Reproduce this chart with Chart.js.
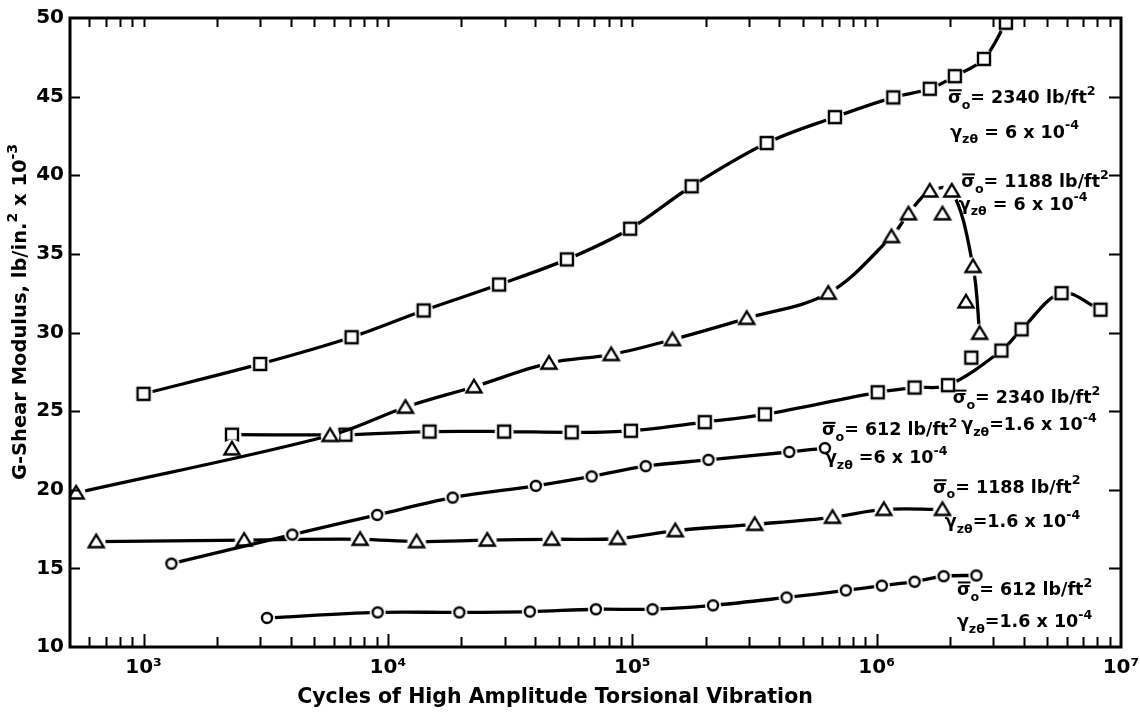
<!DOCTYPE html>
<html>
<head>
<meta charset="utf-8">
<script src="https://cdn.jsdelivr.net/npm/chart.js@4.4.0/dist/chart.umd.min.js"></script>
<style>
  html, body { margin: 0; background: #fff; }
  canvas { display: block; }
</style>
</head>
<body>
<canvas id="shear" width="1140" height="717"></canvas>
<script>
// cycles of high amplitude torsional vibration (x) vs shear modulus G, lb/in^2 x 10^-3 (y)

// sigma0 = 2340 lb/ft2, gamma = 6 x 10^-4 (squares)
const sq2340hiX = [1000, 3000, 7100, 14000, 28500, 54000, 98000, 175000, 355000, 675000, 1170000, 1650000, 2090000, 2750000, 3380000];
const sq2340hiY = [26.1, 28.0, 29.7, 31.4, 33.05, 34.65, 36.6, 39.3, 42.05, 43.7, 44.95, 45.5, 46.3, 47.4, 49.7];

// sigma0 = 1188 lb/ft2, gamma = 6 x 10^-4 (triangles)
const tr1188hiX = [530, 5800, 11800, 22500, 45600, 82000, 146000, 294000, 634000, 1150000, 1350000, 1650000, 2030000, 2480000, 2640000];
const tr1188hiY = [19.8, 23.45, 25.25, 26.55, 28.05, 28.6, 29.55, 30.9, 32.5, 36.1, 37.55, 39.0, 39.0, 34.2, 29.95];
const tr1188hiStrayX = [2300, 1860000, 2320000];
const tr1188hiStrayY = [22.6, 37.55, 31.95];

// sigma0 = 2340 lb/ft2, gamma = 1.6 x 10^-4 (squares)
const sq2340loX = [2300, 6700, 14800, 29900, 56500, 98700, 198000, 349000, 1010000, 1430000, 1960000, 3240000, 3920000, 5710000, 8240000];
const sq2340loY = [23.5, 23.5, 23.7, 23.7, 23.65, 23.75, 24.3, 24.8, 26.2, 26.5, 26.65, 28.85, 30.2, 32.5, 31.45];
const sq2340loStrayX = [2440000];
const sq2340loStrayY = [28.4];

// sigma0 = 612 lb/ft2, gamma = 6 x 10^-4 (circles)
const ci612hiX = [1300, 4060, 9040, 18400, 40300, 68200, 113500, 205000, 439000, 614000];
const ci612hiY = [15.3, 17.15, 18.4, 19.5, 20.25, 20.85, 21.5, 21.9, 22.4, 22.65];

// sigma0 = 1188 lb/ft2, gamma = 1.6 x 10^-4 (triangles)
const tr1188loX = [640, 2580, 7700, 13100, 25500, 46800, 87000, 150000, 317000, 660000, 1070000, 1860000];
const tr1188loY = [16.7, 16.8, 16.85, 16.7, 16.8, 16.85, 16.9, 17.4, 17.8, 18.25, 18.75, 18.75];

// sigma0 = 612 lb/ft2, gamma = 1.6 x 10^-4 (circles)
const ci612loX = [3200, 9080, 19600, 38100, 71000, 121000, 214000, 428000, 748000, 1050000, 1430000, 1880000, 2560000];
const ci612loY = [11.85, 12.2, 12.2, 12.25, 12.4, 12.4, 12.65, 13.15, 13.6, 13.9, 14.15, 14.5, 14.55];

const xTicks = [1e3, 1e4, 1e5, 1e6, 1e7];
const yMin = 10, yMax = 50, yStep = 5;

const FONT = '"DejaVu Sans", sans-serif';
const SUP = { '0': '⁰', '1': '¹', '2': '²', '3': '³', '4': '⁴', '5': '⁵', '6': '⁶', '7': '⁷', '8': '⁸', '9': '⁹', '-': '⁻' };

// open marker on a white disc, so the curve breaks around each point
function marker(shape) {
  const c = document.createElement('canvas');
  c.width = c.height = 22;
  const g = c.getContext('2d');
  const m = 11;
  g.fillStyle = '#fff';
  g.beginPath();
  g.arc(m, m, shape === 'circle' ? 8 : 9.5, 0, Math.PI * 2);
  g.fill();
  g.lineWidth = 2.4;
  g.strokeStyle = '#000';
  g.beginPath();
  if (shape === 'square') g.rect(m - 6, m - 6, 12, 12);
  else if (shape === 'triangle') { g.moveTo(m, m - 7); g.lineTo(m + 7.5, m + 5.5); g.lineTo(m - 7.5, m + 5.5); g.closePath(); }
  else g.arc(m, m, 5, 0, Math.PI * 2);
  g.stroke();
  return c;
}
const SQUARE = marker('square'), TRIANGLE = marker('triangle'), CIRCLE = marker('circle');

const pts = (xs, ys) => xs.map((x, i) => ({ x: x, y: ys[i] }));

function curve(xs, ys, style) {
  return {
    data: pts(xs, ys),
    borderColor: '#000',
    borderWidth: 3.3,
    borderCapStyle: 'round',
    tension: 0.35,
    pointStyle: style,
    pointRadius: 6,
    showLine: true
  };
}
function stray(xs, ys, style) {
  return { data: pts(xs, ys), showLine: false, pointStyle: style, pointRadius: 6, borderColor: '#000' };
}

// small helper for text with sub/superscripts and an overbar
function richWidth(ctx, parts, size) {
  let w = 0;
  parts.forEach(([t, k]) => {
    ctx.font = 'bold ' + (k === 'sub' || k === 'sup' ? size * 0.72 : size) + 'px ' + FONT;
    w += ctx.measureText(t).width;
  });
  return w;
}
function rich(ctx, x, y, parts, size) {
  parts.forEach(([t, k]) => {
    const s = k === 'sub' || k === 'sup' ? size * 0.72 : size;
    ctx.font = 'bold ' + s + 'px ' + FONT;
    const dy = k === 'sub' ? size * 0.32 : k === 'sup' ? -size * 0.48 : 0;
    ctx.fillText(t, x, y + dy);
    const w = ctx.measureText(t).width;
    if (k === 'bar') ctx.fillRect(x + 1, y - size * 0.78, w - 1, 2);
    x += w;
  });
}
const sigma = (v) => [['σ', 'bar'], ['o', 'sub'], ['= ' + v + ' lb/ft', ''], ['2', 'sup']];
const gammaExp = (v, e) => [['γ', ''], ['zθ', 'sub'], [v, ''], [e, 'sup']];

// label anchors: left end of the baseline, in data units
const notes = [
  { x: 1.96e6, y: 44.6, parts: sigma('2340') },
  { x: 2.0e6, y: 42.4, parts: gammaExp(' = 6 x 10', '-4') },
  { x: 2.22e6, y: 39.25, parts: sigma('1188') },
  { x: 2.17e6, y: 37.8, parts: gammaExp(' = 6 x 10', '-4') },
  { x: 2.05e6, y: 25.5, parts: sigma('2340') },
  { x: 2.22e6, y: 23.8, parts: gammaExp('=1.6 x 10', '-4') },
  { x: 5.97e5, y: 23.45, parts: sigma('612') },
  { x: 6.14e5, y: 21.7, parts: gammaExp(' =6 x 10', '-4') },
  { x: 1.70e6, y: 19.8, parts: sigma('1188') },
  { x: 1.90e6, y: 17.6, parts: gammaExp('=1.6 x 10', '-4') },
  { x: 2.13e6, y: 13.3, parts: sigma('612') },
  { x: 2.13e6, y: 11.25, parts: gammaExp('=1.6 x 10', '-4') }
];

const frame = {
  id: 'frame',
  afterDraw(chart) {
    const { ctx, chartArea: a, scales: { x, y } } = chart;
    ctx.save();
    ctx.strokeStyle = '#000';
    ctx.fillStyle = '#000';
    ctx.lineWidth = 3;
    ctx.strokeRect(a.left, a.top, a.right - a.left, a.bottom - a.top);

    // log-cycle ticks, pointing inward, on bottom and top
    ctx.lineWidth = 2;
    ctx.beginPath();
    for (let d = 2; d <= 6; d++) {
      for (let m = 1; m <= 9; m++) {
        const v = m * Math.pow(10, d);
        if (v <= x.min || v >= x.max) continue;
        const px = Math.round(x.getPixelForValue(v)) + 0.5;
        ctx.moveTo(px, a.bottom);
        ctx.lineTo(px, a.bottom - (m === 1 ? 13 : 10));
        ctx.moveTo(px, a.top);
        ctx.lineTo(px, a.top + 9);
      }
    }
    for (let v = yMin + yStep; v < yMax; v += yStep) {
      const py = Math.round(y.getPixelForValue(v)) + 0.5;
      ctx.moveTo(a.left, py);
      ctx.lineTo(a.left + 10, py);
      ctx.moveTo(a.right, py);
      ctx.lineTo(a.right - 12, py);
    }
    ctx.stroke();

    // axis titles
    ctx.textBaseline = 'middle';
    ctx.textAlign = 'center';
    ctx.font = 'bold 20.5px ' + FONT;
    ctx.fillText('Cycles of High Amplitude Torsional Vibration', 555, 698);

    ctx.textAlign = 'left';
    ctx.textBaseline = 'alphabetic';
    const yt = [['G-Shear Modulus, lb/in.', ''], ['2', 'sup'], [' x 10', ''], ['-3', 'sup']];
    const w = richWidth(ctx, yt, 19.5);
    ctx.save();
    ctx.translate(26, 312);
    ctx.rotate(-Math.PI / 2);
    rich(ctx, -w / 2, 0, yt, 19.5);
    ctx.restore();

    // curve labels
    notes.forEach(n => rich(ctx, x.getPixelForValue(n.x), y.getPixelForValue(n.y), n.parts, 17.5));
    ctx.restore();
  }
};

new Chart(document.getElementById('shear'), {
  type: 'line',
  data: {
    datasets: [
      curve(sq2340hiX, sq2340hiY, SQUARE),
      curve(tr1188hiX, tr1188hiY, TRIANGLE),
      stray(tr1188hiStrayX, tr1188hiStrayY, TRIANGLE),
      curve(sq2340loX, sq2340loY, SQUARE),
      stray(sq2340loStrayX, sq2340loStrayY, SQUARE),
      curve(ci612hiX, ci612hiY, CIRCLE),
      curve(tr1188loX, tr1188loY, TRIANGLE),
      curve(ci612loX, ci612loY, CIRCLE)
    ]
  },
  options: {
    responsive: false,
    animation: false,
    layout: { padding: { top: 18, right: 19, left: 0, bottom: 0 } },
    plugins: { legend: { display: false }, tooltip: { enabled: false } },
    scales: {
      x: {
        type: 'logarithmic',
        min: 500,
        max: 1e7,
        afterBuildTicks: (s) => { s.ticks = xTicks.map(v => ({ value: v })); },
        afterFit: (s) => { s.height = 70; s.paddingLeft = 0; s.paddingRight = 0; },
        grid: { display: false, drawTicks: false },
        border: { display: false },
        ticks: {
          padding: 9,
          maxRotation: 0,
          autoSkip: false,
          color: '#000',
          font: { family: FONT, size: 20, weight: 'bold' },
          callback: (v) => '10' + String(Math.round(Math.log10(v))).split('').map(c => SUP[c]).join('')
        }
      },
      y: {
        min: yMin,
        max: yMax,
        afterFit: (s) => { s.width = 70; s.paddingTop = 0; s.paddingBottom = 0; },
        grid: { display: false, drawTicks: false },
        border: { display: false },
        ticks: {
          stepSize: yStep,
          padding: 6,
          color: '#000',
          font: { family: FONT, size: 20, weight: 'bold' }
        }
      }
    }
  },
  plugins: [frame]
});
</script>
</body>
</html>
